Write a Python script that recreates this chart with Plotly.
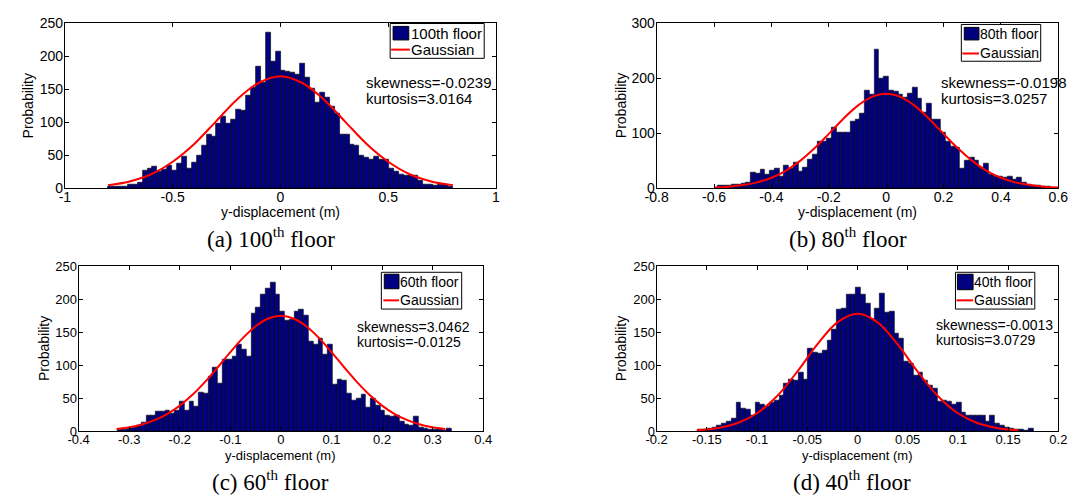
import numpy as np
import plotly.graph_objects as go

# ---------------- data ----------------
# (a) 100th floor
a_bin_start = -0.80
a_bin_width = 1.6 / 70
a_counts = [3, 2, 3, 3, 5, 6, 9,
            26, 30, 33, 25, 28, 34, 27, 38, 48, 30, 39, 50, 65, 82, 78, 98, 109, 98, 104, 119,
            118, 141, 153, 184, 160, 236,
            192, 208, 179, 177, 175, 172, 189, 168, 152, 130, 145, 138, 124, 113, 82, 82, 66, 65,
            50, 47, 44, 48, 43, 44, 30, 25, 20, 19, 19, 19, 11, 6, 5, 4, 5, 6, 3]
a_gauss_x = [-0.8, -0.7, -0.6, -0.5, -0.4, -0.3, -0.2, -0.1, 0.0, 0.1, 0.2, 0.3, 0.4, 0.5, 0.6, 0.7, 0.8]
a_gauss_y = [4.2, 10, 21, 40, 67, 101, 135, 160, 170, 160, 135, 101, 67, 40, 21, 10, 4.2]

# (b) 80th floor
b_bin_start = -0.588
b_bin_width = 1.16 / 70
b_counts = [4, 4, 5, 6, 7, 9, 10,
            28, 26, 33, 24, 32, 35, 22, 41, 35, 46,
            31, 38, 52, 62, 85, 85, 90, 110, 102, 102, 102, 122, 125, 136, 178, 170, 252,
            200, 203, 178, 176, 171, 165, 172, 183, 163, 137, 155, 125, 125, 102, 84, 75, 74, 35,
            50, 56, 50, 37, 44, 25, 22, 22, 19, 22, 16, 19, 10, 6, 5, 4, 3, 2]
b_gauss_x = [-0.6, -0.55, -0.5, -0.45, -0.4, -0.35, -0.3, -0.25, -0.2, -0.15, -0.1, -0.05, 0.0,
             0.05, 0.1, 0.15, 0.2, 0.25, 0.3, 0.35, 0.4, 0.45, 0.5, 0.55, 0.6]
b_gauss_y = [1.2, 2.6, 5.4, 10.4, 18.8, 31.5, 49.5, 72.4, 98.8, 126, 149.8, 166.1, 172,
             166.1, 149.8, 126, 98.8, 72.4, 49.5, 31.5, 18.8, 10.4, 5.4, 2.6, 1.2]

# (c) 60th floor
c_bin_start = -0.323
c_bin_width = 0.661 / 70
c_counts = [2, 3, 4, 5, 8, 13, 23, 23, 30, 30, 31, 27, 31, 45, 32, 45, 38, 59, 57, 83,
            96, 73, 108, 109, 113, 132, 124, 114, 178, 188, 208, 216, 225,
            207, 182, 168, 170, 181, 184, 176, 136, 131, 140, 117, 132, 71, 79, 77, 57, 47, 49,
            55, 36, 49, 39, 32, 24, 22, 24, 14, 10, 8, 22, 6, 4, 3, 2, 2, 1, 4]
c_gauss_x = [-0.325, -0.3, -0.275, -0.25, -0.225, -0.2, -0.175, -0.15, -0.125, -0.1, -0.075, -0.05,
             -0.025, 0.0, 0.025, 0.05, 0.075, 0.1, 0.125, 0.15, 0.175, 0.2, 0.225, 0.25, 0.275,
             0.3, 0.325]
c_gauss_y = [3.2, 5.8, 10.0, 16.5, 25.8, 38.6, 55.0, 74.7, 96.9, 119.9, 141.5, 159.2, 170.9, 175,
             170.9, 159.2, 141.5, 119.9, 96.9, 74.7, 55.0, 38.6, 25.8, 16.5, 10.0, 5.8, 3.2]

# (d) 40th floor
d_bin_start = -0.159
d_bin_width = 0.334 / 70
d_counts = [2, 3, 4, 6, 9, 11, 14, 19, 44, 34, 33, 23, 43, 40, 38, 43, 46, 54, 73, 79, 77, 89, 79,
            126, 120, 118, 122, 138, 155, 184, 186, 208, 208, 218, 207, 194, 170, 186, 209, 180,
            181, 148, 140, 106, 102, 85, 89, 77, 69, 64, 45, 47, 45, 40, 43, 28, 23, 24, 23, 23,
            14, 24, 12, 9, 6, 4, 3, 2, 1, 4]
d_gauss_x = [-0.16, -0.14, -0.12, -0.10, -0.08, -0.06, -0.04, -0.02, 0.0,
             0.02, 0.04, 0.06, 0.08, 0.10, 0.12, 0.14, 0.16]
d_gauss_y = [1.4, 4.4, 11.8, 27.0, 53.2, 90.2, 131.6, 165.1, 178,
             165.1, 131.6, 90.2, 53.2, 27.0, 11.8, 4.4, 1.4]

# tick labels
a_xticks = [-1, -0.5, 0, 0.5, 1]
a_xlabels = ["-1", "-0.5", "0", "0.5", "1"]
b_xticks = [-0.8, -0.6, -0.4, -0.2, 0, 0.2, 0.4, 0.6]
b_xlabels = ["-0.8", "-0.6", "-0.4", "-0.2", "0", "0.2", "0.4", "0.6"]
c_xticks = [-0.4, -0.3, -0.2, -0.1, 0, 0.1, 0.2, 0.3, 0.4]
c_xlabels = ["-0.4", "-0.3", "-0.2", "-0.1", "0", "0.1", "0.2", "0.3", "0.4"]
d_xticks = [-0.2, -0.15, -0.1, -0.05, 0, 0.05, 0.1, 0.15, 0.2]
d_xlabels = ["-0.2", "-0.15", "-0.1", "-0.05", "0", "0.05", "0.1", "0.15", "0.2"]
y250_ticks = [0, 50, 100, 150, 200, 250]
y300_ticks = [0, 100, 200, 300]

series_names = ["100th floor", "80th floor", "60th floor", "40th floor"]
gauss_name = "Gaussian"
skew_texts = ["skewness=-0.0239", "skewness=-0.0198", "skewness=3.0462", "skewness=-0.0013"]
kurt_texts = ["kurtosis=3.0164", "kurtosis=3.0257", "kurtosis=-0.0125", "kurtosis=3.0729"]
caption_labels = ["(a) 100", "(b) 80", "(c) 60", "(d) 40"]

# ---------------- figure ----------------
W, H = 1084, 501
SANS = "Liberation Sans, Arial, Helvetica, sans-serif"
SERIF = "Liberation Serif, Times New Roman, serif"
NAVY = "#000080"


def px(x):
    return x / W


def py(y):
    return 1 - y / H


panels = [
    dict(counts=a_counts, start=a_bin_start, width=a_bin_width, gx=a_gauss_x, gy=a_gauss_y,
         xt=a_xticks, xl=a_xlabels, yt=y250_ticks, xr=[-1, 1], yr=[0, 250],
         box=(54, 494, 16, 186), legbox=(386, 482, 16, 52), patch=(389, 405, 19, 33),
         lline=(387, 406, 43), ltext=(407, 26, 43),
         txt=(361, 77, 93), ytitle=16, cap=(264, 238), fs=14, afs=15, lfs=15),
    dict(counts=b_counts, start=b_bin_start, width=b_bin_width, gx=b_gauss_x, gy=b_gauss_y,
         xt=b_xticks, xl=b_xlabels, yt=y300_ticks, xr=[-0.8, 0.6], yr=[0, 300],
         box=(658, 1068, 16, 186), legbox=(969, 1050, 17, 55), patch=(972, 987, 20, 33),
         lline=(970, 987, 47), ltext=(988, 27, 47),
         txt=(948, 77, 93), ytitle=621, cap=(853, 238), fs=14, afs=15, lfs=14),
    dict(counts=c_counts, start=c_bin_start, width=c_bin_width, gx=c_gauss_x, gy=c_gauss_y,
         xt=c_xticks, xl=c_xlabels, yt=y250_ticks, xr=[-0.4, 0.4], yr=[0, 250],
         box=(68, 481, 267, 437), legbox=(377, 459, 273, 311), patch=(380, 395, 275, 290),
         lline=(379, 395, 302), ltext=(396, 283, 302),
         txt=(352, 330, 345), ytitle=32, cap=(264, 489), fs=13, afs=14, lfs=14),
    dict(counts=d_counts, start=d_bin_start, width=d_bin_width, gx=d_gauss_x, gy=d_gauss_y,
         xt=d_xticks, xl=d_xlabels, yt=y250_ticks, xr=[-0.2, 0.2], yr=[0, 250],
         box=(658, 1068, 267, 437), legbox=(963, 1044, 273, 311), patch=(965, 981, 275, 291),
         lline=(964, 981, 302), ltext=(982, 283, 302),
         txt=(943, 327, 343), ytitle=621, cap=(857, 489), fs=13, afs=14, lfs=14),
]

fig = go.Figure()
layout = dict(width=W, height=H, margin=dict(l=0, r=0, t=0, b=0),
              paper_bgcolor="white", plot_bgcolor="white", bargap=0, showlegend=False,
              font=dict(family=SANS, color="black"), annotations=[], shapes=[])

for k, p in enumerate(panels):
    sfx = "" if k == 0 else str(k + 1)
    xa, ya = "x" + sfx, "y" + sfx
    n = len(p["counts"])
    centers = p["start"] + p["width"] * (np.arange(n) + 0.5)
    fig.add_trace(go.Bar(x=centers, y=p["counts"], width=p["width"], xaxis=xa, yaxis=ya,
                         name=series_names[k],
                         marker=dict(color=NAVY, line=dict(color="black", width=0.6))))
    fig.add_trace(go.Scatter(x=p["gx"], y=p["gy"], mode="lines", xaxis=xa, yaxis=ya,
                             name=gauss_name,
                             line=dict(color="red", width=2, shape="spline")))
    x0, x1, y0, y1 = p["box"]
    axis_common = dict(showline=True, linecolor="black", linewidth=1, mirror="ticks",
                       ticks="inside", ticklen=4, tickcolor="black", showgrid=False,
                       zeroline=False, tickfont=dict(family=SANS, size=p["fs"], color="black"))
    layout["xaxis" + sfx] = dict(domain=[px(x0), px(x1)], anchor=ya, range=p["xr"],
                                 tickvals=p["xt"], ticktext=p["xl"], ticklabelstandoff=-4,
                                 **axis_common)
    layout["yaxis" + sfx] = dict(domain=[py(y1), py(y0)], anchor=xa, range=p["yr"],
                                 tickvals=p["yt"], ticktext=[str(v) for v in p["yt"]],
                                 ticklabelstandoff=-2, **axis_common)

    # legend (box, patch, line, labels)
    bx0, bx1, by0, by1 = p["legbox"]
    layout["shapes"].append(dict(type="rect", xref="paper", yref="paper",
                                 x0=px(bx0), x1=px(bx1), y0=py(by1), y1=py(by0),
                                 fillcolor="white", line=dict(color="black", width=1)))
    qx0, qx1, qy0, qy1 = p["patch"]
    layout["shapes"].append(dict(type="rect", xref="paper", yref="paper",
                                 x0=px(qx0), x1=px(qx1), y0=py(qy1), y1=py(qy0),
                                 fillcolor=NAVY, line=dict(color="black", width=1)))
    lx0, lx1, lyy = p["lline"]
    layout["shapes"].append(dict(type="line", xref="paper", yref="paper",
                                 x0=px(lx0), x1=px(lx1), y0=py(lyy), y1=py(lyy),
                                 line=dict(color="red", width=2)))
    tx0, ty_a, ty_b = p["ltext"]
    for txt, yy in ((series_names[k], ty_a), (gauss_name, ty_b)):
        layout["annotations"].append(dict(text=txt, x=px(tx0), y=py(yy), xref="paper",
                                          yref="paper", xanchor="left", yanchor="middle",
                                          showarrow=False, xshift=-2,
                                          font=dict(family=SANS, size=p["lfs"])))

    tx, ty1, ty2 = p["txt"]
    cap_text = (caption_labels[k]
                + "<sup><span style='font-size:15px'>th</span></sup>"
                + "<span style='font-size:23px'> floor</span>")
    layout["annotations"] += [
        dict(text=skew_texts[k], x=px(tx), y=py(ty1), xref="paper", yref="paper",
             xanchor="left", yanchor="middle", showarrow=False, xshift=-2,
             font=dict(family=SANS, size=p["afs"])),
        dict(text=kurt_texts[k], x=px(tx), y=py(ty2), xref="paper", yref="paper",
             xanchor="left", yanchor="middle", showarrow=False, xshift=-2,
             font=dict(family=SANS, size=p["afs"])),
        dict(text="Probability", x=px(p["ytitle"]), y=py((y0 + y1) / 2), xref="paper",
             yref="paper", xanchor="center", yanchor="middle", textangle=-90,
             showarrow=False, font=dict(family=SANS, size=14)),
        dict(text="y-displacement (m)", x=px((x0 + x1) / 2), y=py(y1 + 25), xref="paper",
             yref="paper", xanchor="center", yanchor="middle", showarrow=False,
             font=dict(family=SANS, size=p["fs"])),
        dict(text=cap_text, x=px(p["cap"][0]), y=py(p["cap"][1]), xref="paper",
             yref="paper", xanchor="center", yanchor="middle", showarrow=False,
             font=dict(family=SERIF, size=23)),
    ]

fig.update_layout(**layout)
fig.write_html("out.html")
